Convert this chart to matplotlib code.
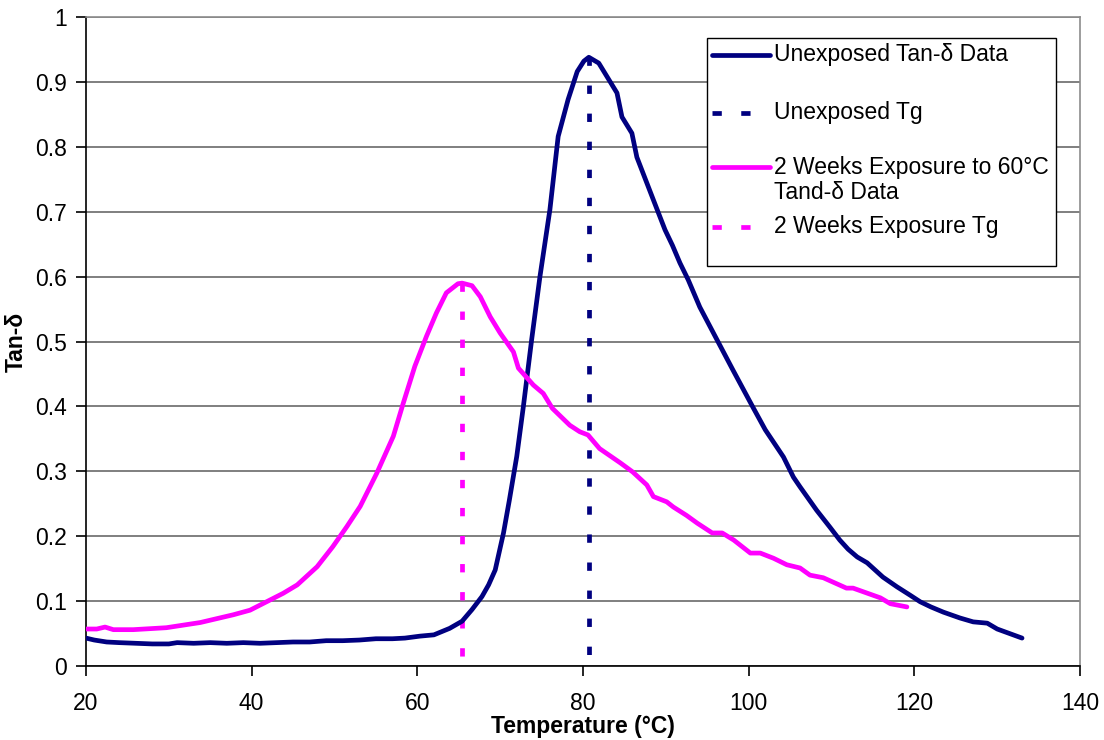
import matplotlib
matplotlib.use("Agg")
import matplotlib.pyplot as plt
from matplotlib.patches import Rectangle

plt.rcParams['font.family'] = ['Liberation Sans', 'DejaVu Sans']
plt.rcParams['lines.scale_dashes'] = False

# unexposed sample, tan-delta vs temperature
unexp_temp = [20, 21, 22.5, 24, 26, 28, 30, 31, 33, 35, 37, 39, 41, 43, 45, 47, 49, 51, 53, 55, 57,
              58.5, 60.3, 62, 63.9, 65.4, 66.6, 67.8, 68.6, 69.4, 70.4, 71.1, 72, 72.8, 73.8,
              74.8, 76, 77, 78.2, 79.3, 80.1, 80.7, 81.9, 83, 84.1, 84.7, 85.9,
              86.5, 88.5, 89.9, 90.8, 91.7, 92.7, 94.1, 96.2, 98.1, 100.5, 102, 104.2, 105.4,
              106.2, 108.2, 109.8, 111, 112, 113.1, 114.3, 116.2, 117.9, 119.5, 120.7, 122,
              123.5, 125.5, 127.1, 128.8, 130, 131.5, 133]
unexp_tan = [0.043, 0.040, 0.037, 0.036, 0.035, 0.034, 0.034, 0.036, 0.035, 0.036, 0.035, 0.036,
             0.035, 0.036, 0.037, 0.037, 0.039, 0.039, 0.040, 0.042, 0.042, 0.043, 0.046, 0.048,
             0.058, 0.069, 0.087, 0.107, 0.125, 0.148, 0.205, 0.255, 0.323, 0.400, 0.503,
             0.600, 0.703, 0.816, 0.873, 0.916, 0.932, 0.938, 0.929, 0.906, 0.883,
             0.846, 0.821, 0.784, 0.718, 0.672, 0.648, 0.621, 0.595, 0.553, 0.502, 0.456, 0.399,
             0.364, 0.322, 0.291, 0.276, 0.240, 0.214, 0.194, 0.180, 0.168, 0.159, 0.137, 0.122,
             0.109, 0.099, 0.091, 0.083, 0.074, 0.068, 0.066, 0.057, 0.050, 0.043]

# after 2 weeks at 60 C
exp_temp = [20, 21.3, 22.3, 23.3, 25.7, 29.7, 33.8, 37.8, 39.8, 41.8, 43.8, 45.5, 47.9, 49.8,
            51.5, 53.1, 55.1, 57.1, 58.3, 59.7, 61.1, 62.3, 63.5, 64.9, 65.4, 66.6, 67.6,
            68.8, 70, 71.6, 72.2, 74, 75.2, 76.3, 78.4, 79.6, 80.6, 82, 84.5, 86, 87.7, 88.5,
            90.1, 90.9, 92.5, 93.8, 95.6, 96.8, 98.2, 100.2, 101.4, 103, 104.6, 106.2, 107.4,
            109, 111.8, 112.6, 115.9, 117.1, 119.1]
exp_tan = [0.057, 0.057, 0.060, 0.056, 0.056, 0.059, 0.067, 0.079, 0.086, 0.099, 0.112, 0.125,
           0.153, 0.184, 0.215, 0.246, 0.297, 0.354, 0.405, 0.462, 0.508, 0.544, 0.575,
           0.589, 0.590, 0.586, 0.569, 0.538, 0.513, 0.484, 0.459, 0.433, 0.420, 0.397, 0.371,
           0.361, 0.356, 0.335, 0.313, 0.299, 0.279, 0.261, 0.253, 0.245, 0.232, 0.220, 0.205,
           0.205, 0.194, 0.174, 0.174, 0.166, 0.156, 0.151, 0.140, 0.136, 0.120, 0.120, 0.105,
           0.096, 0.091]

# glass transition temperatures and peak heights
unexp_tg = 80.75
unexp_peak = 0.938
exp_tg = 65.4
exp_peak = 0.590

navy = '#000080'
magenta = '#FF00FF'
lw = 3.4
dash = (6.0, 14.2)
fs = 16.5

fig = plt.figure(figsize=(11.04, 7.4), dpi=100)
ax = fig.add_axes([0.0779, 0.1, 0.9004, 0.877])

# Tg markers run from the peak down to the axis
ax.plot(unexp_temp, unexp_tan, color=navy, lw=lw, solid_capstyle='round', zorder=4)
ax.plot([unexp_tg, unexp_tg], [unexp_peak, 0], color=navy, lw=lw, dashes=dash,
        dash_capstyle='butt', zorder=3)
ax.plot(exp_temp, exp_tan, color=magenta, lw=lw, solid_capstyle='round', zorder=4)
ax.plot([exp_tg, exp_tg], [exp_peak, 0], color=magenta, lw=lw, dashes=dash,
        dash_capstyle='butt', zorder=3)

ax.set_xlim(20, 140)
ax.set_ylim(0, 1)
ax.set_xticks(range(20, 141, 20))
ax.set_yticks([i / 10 for i in range(11)])
ax.set_yticklabels(['0', '0.1', '0.2', '0.3', '0.4', '0.5', '0.6', '0.7', '0.8', '0.9', '1'])
ax.yaxis.grid(True, color='#6a6a6a', lw=1.2)
ax.set_axisbelow(True)

for side in ('top', 'right'):
    ax.spines[side].set_color('#8c8c8c')
    ax.spines[side].set_linewidth(1.2)
for side in ('left', 'bottom'):
    ax.spines[side].set_color('black')
    ax.spines[side].set_linewidth(1.2)

ax.tick_params(axis='both', direction='out', length=7, width=1.2, labelsize=fs)
ax.tick_params(axis='y', pad=7)
ax.tick_params(axis='x', pad=12)

ax.set_xlabel('Temperature (°C)', fontsize=fs, fontweight='bold', labelpad=0)
ax.set_ylabel('Tan-δ', fontsize=fs, fontweight='bold', labelpad=5)

# legend box, drawn by hand so the two-line entry keeps its handle on the first line
box = (0.6247, 0.6168, 0.3512, 0.3513)
ax.add_patch(Rectangle(box[:2], box[2], box[3], transform=ax.transAxes,
                       facecolor='white', edgecolor='black', lw=1.0, zorder=6))
h0, h1, h1_dash, tx = 0.6298, 0.6881, 0.6760, 0.6922
entries = [
    (0.9420, navy, 'solid', ['Unexposed Tan-δ Data']),
    (0.8526, navy, 'dashed', ['Unexposed Tg']),
    (0.7682, magenta, 'solid', ['2 Weeks Exposure to 60°C', 'Tand-δ Data']),
    (0.6772, magenta, 'dashed', ['2 Weeks Exposure Tg']),
]
line_step = 0.0386
for y, col, style, lines in entries:
    if style == 'solid':
        ax.plot([h0, h1], [y, y], transform=ax.transAxes, color=col, lw=lw,
                solid_capstyle='round', zorder=7, clip_on=False)
    else:
        ax.plot([h0, h1_dash], [y, y], transform=ax.transAxes, color=col, lw=lw,
                dashes=(6.7, 14.0), dash_capstyle='butt', zorder=7, clip_on=False)
    for i, txt in enumerate(lines):
        ax.text(tx, y - i * line_step, txt, transform=ax.transAxes, fontsize=fs,
                ha='left', va='center', zorder=7)

fig.savefig('out.png', dpi=100)
